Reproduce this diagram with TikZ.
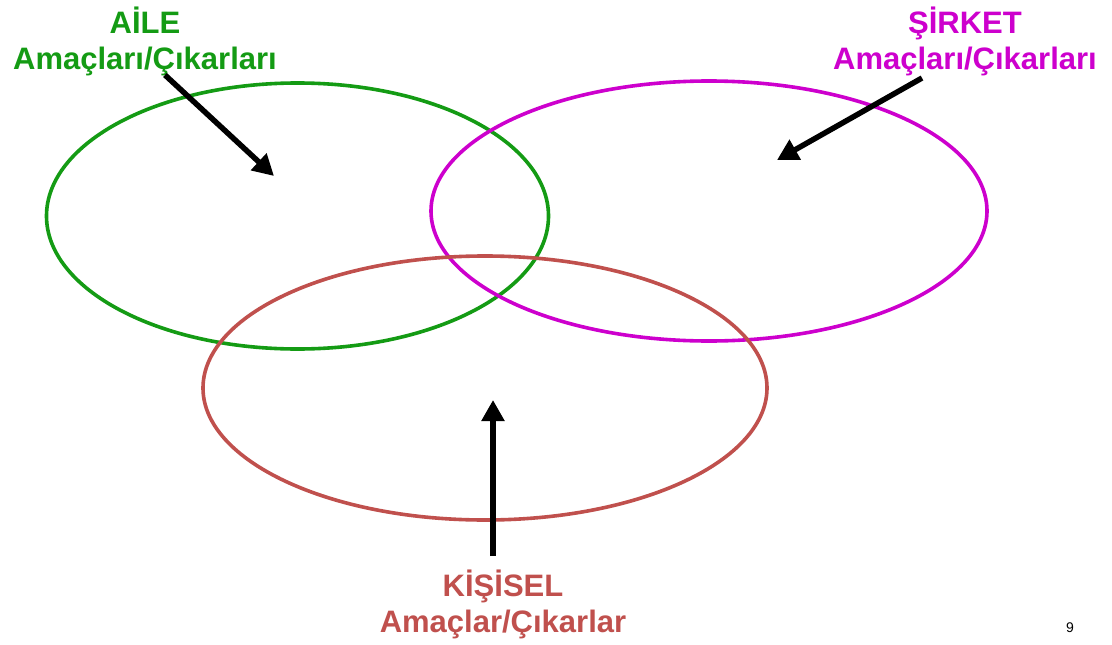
\documentclass[tikz,border=0pt]{standalone}
\usepackage{fontspec}
\setmainfont{Liberation Sans}
\usetikzlibrary{arrows.meta}
\definecolor{aile}{RGB}{20,155,20}
\definecolor{sirket}{RGB}{205,0,205}
\definecolor{kisi}{RGB}{192,80,77}
\tikzset{
  ring/.style={line width=3.6pt},
  pointer/.style={line width=5.5pt, -{Triangle[length=21pt,width=22pt]}},
  lbl/.style={font=\fontsize{31}{36}\selectfont\bfseries, align=center, inner sep=0pt},
}
\begin{document}
\begin{tikzpicture}[x=1pt,y=-1pt]
\useasboundingbox[fill=white] (0,0) rectangle (1112,645);
% circles
\draw[ring, aile] (297.5,216) ellipse [x radius=251pt, y radius=133pt];
\draw[ring, sirket] (709,211) ellipse [x radius=278pt, y radius=130pt];
\draw[ring, kisi] (485,388) ellipse [x radius=282pt, y radius=132pt];
% labels
\node[lbl, text=aile] (ailelbl) at (145,41) {AİLE\\Amaçları/Çıkarları};
\node[lbl, text=sirket] (sirketlbl) at (965,41) {ŞİRKET\\Amaçları/Çıkarları};
\node[lbl, text=kisi] (kisilbl) at (503,604) {KİŞİSEL\\Amaçlar/Çıkarlar};
\node[font=\fontsize{14}{16}\selectfont, inner sep=0pt] (page) at (1070,628) {9};
% arrows
\coordinate (a0) at (165,75);
\coordinate (a1) at (274,176);
\coordinate (s0) at (922,78);
\coordinate (s1) at (777,160);
\coordinate (k0) at (493,556);
\coordinate (k1) at (493,400);
\draw[pointer] (a0) -- (a1);
\draw[pointer] (s0) -- (s1);
\draw[pointer] (k0) -- (k1);
\end{tikzpicture}
\end{document}
